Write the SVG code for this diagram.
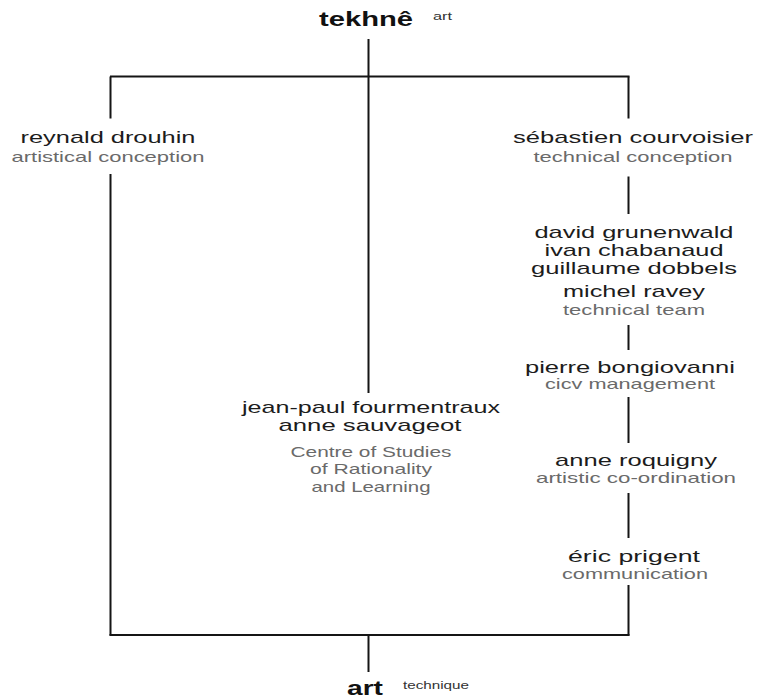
<svg xmlns="http://www.w3.org/2000/svg" width="757" height="698" viewBox="0 0 757 698">
<style>
text { font-family: "Liberation Sans", Arial, sans-serif; }
.nm { font-size: 17px; fill: #1c1c1c; text-anchor: middle; }
.sb { font-size: 14.5px; fill: #6a6a6a; text-anchor: middle; }
.ti { font-size: 20px; font-weight: bold; fill: #111; }
.sm { font-size: 10px; fill: #333; }
.ln { stroke: #151515; stroke-width: 2; fill: none; }
</style>
<rect width="757" height="698" fill="#fff"/>
<g id="connectors">
<path class="ln" d="M368.5 39 V393"/>
<path class="ln" d="M110 76.5 H629.5"/>
<path class="ln" d="M110.5 76.5 V118.5 M110.5 174 V635.5"/>
<path class="ln" d="M628.5 76.5 V118.5 M628.5 176.5 V214 M628.5 325 V350 M628.5 397 V443 M628.5 493 V538 M628.5 585 V635.5"/>
<path class="ln" d="M109.5 635 H629.5"/>
<path class="ln" d="M368.5 635 V672"/>
</g>
<g id="title-top">
<text class="ti" x="319" y="26" textLength="94" lengthAdjust="spacingAndGlyphs">tekhnê</text>
<text class="sm" x="433" y="20" textLength="19" lengthAdjust="spacingAndGlyphs">art</text>
</g>
<g id="node-drouhin">
<text class="nm" x="108" y="143" textLength="175" lengthAdjust="spacingAndGlyphs">reynald drouhin</text>
<text class="sb" x="108" y="161.5" textLength="193" lengthAdjust="spacingAndGlyphs">artistical conception</text>
</g>
<g id="node-courvoisier">
<text class="nm" x="633" y="143" textLength="240" lengthAdjust="spacingAndGlyphs">sébastien courvoisier</text>
<text class="sb" x="633" y="161.5" textLength="199" lengthAdjust="spacingAndGlyphs">technical conception</text>
</g>
<g id="node-team">
<text class="nm" x="634" y="237.5" textLength="199" lengthAdjust="spacingAndGlyphs">david grunenwald</text>
<text class="nm" x="634" y="256" textLength="179" lengthAdjust="spacingAndGlyphs">ivan chabanaud</text>
<text class="nm" x="634" y="273.5" textLength="206" lengthAdjust="spacingAndGlyphs">guillaume dobbels</text>
<text class="nm" x="634" y="296.5" textLength="142" lengthAdjust="spacingAndGlyphs">michel ravey</text>
<text class="sb" x="634" y="315" textLength="142" lengthAdjust="spacingAndGlyphs">technical team</text>
</g>
<g id="node-bongiovanni">
<text class="nm" x="630" y="373" textLength="210" lengthAdjust="spacingAndGlyphs">pierre bongiovanni</text>
<text class="sb" x="630" y="388.5" textLength="170" lengthAdjust="spacingAndGlyphs">cicv management</text>
</g>
<g id="node-roquigny">
<text class="nm" x="636" y="466" textLength="162" lengthAdjust="spacingAndGlyphs">anne roquigny</text>
<text class="sb" x="636" y="482.5" textLength="200" lengthAdjust="spacingAndGlyphs">artistic co-ordination</text>
</g>
<g id="node-prigent">
<text class="nm" x="634" y="561.5" textLength="132" lengthAdjust="spacingAndGlyphs">éric prigent</text>
<text class="sb" x="635" y="578.5" textLength="146" lengthAdjust="spacingAndGlyphs">communication</text>
</g>
<g id="node-center">
<text class="nm" x="371" y="413" textLength="258" lengthAdjust="spacingAndGlyphs">jean-paul fourmentraux</text>
<text class="nm" x="370" y="431" textLength="183" lengthAdjust="spacingAndGlyphs">anne sauvageot</text>
<text class="sb" x="371" y="456.5" textLength="161" lengthAdjust="spacingAndGlyphs">Centre of Studies</text>
<text class="sb" x="371" y="474.3" textLength="122" lengthAdjust="spacingAndGlyphs">of Rationality</text>
<text class="sb" x="371" y="491.7" textLength="119" lengthAdjust="spacingAndGlyphs">and Learning</text>
</g>
<g id="title-bottom">
<text class="ti" x="347" y="695" textLength="36" lengthAdjust="spacingAndGlyphs">art</text>
<text class="sm" x="403" y="689" textLength="66" lengthAdjust="spacingAndGlyphs">technique</text>
</g>
</svg>
